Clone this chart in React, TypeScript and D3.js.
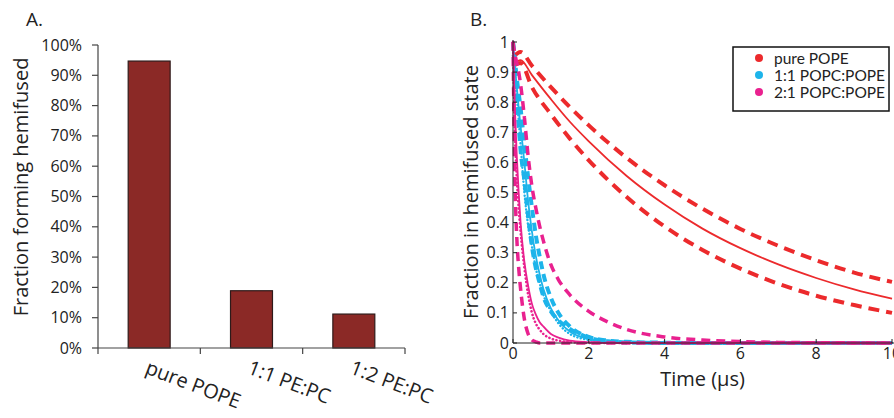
import React from 'react';
import * as d3 from 'd3';

// panel A: bars
const categories = ['pure POPE', '1:1 PE:PC', '1:2 PE:PC'];
const fractions = [0.947, 0.189, 0.112];
const pctTicks = [0, 0.1, 0.2, 0.3, 0.4, 0.5, 0.6, 0.7, 0.8, 0.9, 1];

// panel B: decay curves, time in µs
const redT = [0, 0.2, 0.5, 1, 1.5, 2, 3, 4, 5, 6, 7, 8, 9, 10];
const redFit = [0.925, 0.94, 0.89, 0.81, 0.735, 0.67, 0.555, 0.46, 0.38, 0.315, 0.261, 0.216, 0.178, 0.147];
const redHi = [0.95, 0.967, 0.921, 0.85, 0.784, 0.723, 0.615, 0.524, 0.446, 0.379, 0.323, 0.275, 0.234, 0.203];
const redLo = [0.92, 0.93, 0.85, 0.76, 0.679, 0.607, 0.485, 0.387, 0.309, 0.247, 0.197, 0.157, 0.126, 0.1];

const fastT = [0, 0.05, 0.1, 0.15, 0.2, 0.3, 0.4, 0.5, 0.6, 0.7, 0.8, 1, 1.2, 1.5, 2, 2.5, 3, 4, 5, 6, 7, 10];
const blueFit = [1, 0.92, 0.85, 0.78, 0.72, 0.6, 0.47, 0.37, 0.29, 0.23, 0.18, 0.115, 0.075, 0.038, 0.013, 0.004, 0.001, 0, 0, 0, 0, 0];
const blueDot = [1, 0.9, 0.82, 0.74, 0.66, 0.5, 0.39, 0.32, 0.25, 0.2, 0.16, 0.105, 0.065, 0.03, 0.01, 0.003, 0, 0, 0, 0, 0, 0];
const blueLo = [1, 0.9, 0.8, 0.72, 0.64, 0.54, 0.42, 0.32, 0.25, 0.2, 0.155, 0.105, 0.075, 0.047, 0.018, 0.006, 0.002, 0, 0, 0, 0, 0];
const blueHi = [1, 0.94, 0.88, 0.83, 0.78, 0.66, 0.55, 0.45, 0.36, 0.29, 0.23, 0.15, 0.1, 0.055, 0.02, 0.008, 0.004, 0.001, 0, 0, 0, 0];
const pinkFit = [1, 0.78, 0.62, 0.5, 0.4, 0.27, 0.19, 0.13, 0.095, 0.07, 0.055, 0.03, 0.018, 0.008, 0.003, 0, 0, 0, 0, 0, 0, 0];
const pinkDot = [1, 0.7, 0.55, 0.45, 0.37, 0.25, 0.16, 0.1, 0.065, 0.045, 0.03, 0.015, 0.008, 0.003, 0, 0, 0, 0, 0, 0, 0, 0];
const pinkLo = [1, 0.55, 0.35, 0.25, 0.18, 0.08, 0.03, 0.01, 0.004, 0, 0, 0, 0, 0, 0, 0, 0, 0, 0, 0, 0, 0];
const pinkHi = [1, 0.96, 0.93, 0.9, 0.86, 0.75, 0.62, 0.52, 0.45, 0.39, 0.34, 0.26, 0.21, 0.16, 0.105, 0.07, 0.045, 0.02, 0.01, 0.005, 0.002, 0];

const timeTicks = [0, 2, 4, 6, 8, 10];
const fracTicks = [0, 0.1, 0.2, 0.3, 0.4, 0.5, 0.6, 0.7, 0.8, 0.9, 1];

const legendNames = ['pure POPE', '1:1 POPC:POPE', '2:1 POPC:POPE'];

const RED = '#ec2a2c';
const BLUE = '#1db4ea';
const PINK = '#e9218f';
const BAR = '#8b2926';
const FONT = '"Open Sans", sans-serif';

export default function App() {
  // ---- panel A scales
  const xA = d3.scaleBand<string>().domain(categories).range([98, 405]).paddingInner(0.59).paddingOuter(0.295);
  const yA = d3.scaleLinear().domain([0, 1]).range([348, 45]);
  const step = xA.step();
  const pct = d3.format('.0%');

  // ---- panel B scales
  const xB = d3.scaleLinear().domain([0, 10]).range([513, 892]);
  const yB = d3.scaleLinear().domain([0, 1]).range([343, 42]);
  const line = (t: number[]) =>
    d3.line<number>().x((_, i) => xB(t[i])).y((d) => yB(d)).curve(d3.curveMonotoneX);

  const curves = [
    { t: redT, v: redLo, c: RED, w: 4, dash: '11 7' },
    { t: redT, v: redHi, c: RED, w: 4, dash: '11 7' },
    { t: redT, v: redFit, c: RED, w: 1.8, dash: null },
    { t: fastT, v: blueLo, c: BLUE, w: 4, dash: '8 5' },
    { t: fastT, v: blueHi, c: BLUE, w: 4, dash: '8 5' },
    { t: fastT, v: blueFit, c: BLUE, w: 1.8, dash: null },
    { t: fastT, v: blueDot, c: BLUE, w: 2.4, dash: '0.1 3.4', dot: true },
    { t: fastT, v: pinkLo, c: PINK, w: 3.5, dash: '9 6' },
    { t: fastT, v: pinkHi, c: PINK, w: 3.5, dash: '9 6' },
    { t: fastT, v: pinkFit, c: PINK, w: 1.8, dash: null },
    { t: fastT, v: pinkDot, c: PINK, w: 2.6, dash: '0.1 3.6', dot: true },
  ];

  return (
    <svg width={894} height={418} style={{ position: 'absolute', left: 0, top: 0, fontFamily: FONT }}>
      <rect width={894} height={418} fill="#fff" />

      {/* ===== Panel A ===== */}
      <text x={26} y={26} fontSize={19} fill="#222">A.</text>
      <text transform="translate(28,187) rotate(-90)" textAnchor="middle" fontSize={20} fill="#222">
        Fraction forming hemifused
      </text>
      {categories.map((c, i) => (
        <rect key={c} x={xA(c)} y={yA(fractions[i])} width={xA.bandwidth()} height={yA(0) - yA(fractions[i])}
          fill={BAR} stroke="#2e1a1a" strokeWidth={1.2} />
      ))}
      <line x1={98} x2={98} y1={yA(1)} y2={yA(0)} stroke="#444" strokeWidth={1.2} />
      <line x1={98} x2={405} y1={yA(0)} y2={yA(0)} stroke="#444" strokeWidth={1.2} />
      {pctTicks.map((t) => (
        <g key={t}>
          <line x1={92} x2={98} y1={yA(t)} y2={yA(t)} stroke="#444" strokeWidth={1.2} />
          <text x={82} y={yA(t) + 5.5} textAnchor="end" fontSize={16} fill="#222">{pct(t)}</text>
        </g>
      ))}
      {d3.range(categories.length + 1).map((i) => (
        <line key={i} x1={98 + i * step} x2={98 + i * step} y1={yA(0)} y2={yA(0) + 6} stroke="#444" strokeWidth={1.2} />
      ))}
      {categories.map((c) => (
        <text key={c} transform={`translate(${xA(c)! + xA.bandwidth() / 2 - 5},${373}) rotate(21)`}
          fontSize={20} fill="#222">{c}</text>
      ))}

      {/* ===== Panel B ===== */}
      <text x={470} y={26} fontSize={19} fill="#222">B.</text>
      <text transform="translate(478,192) rotate(-90)" textAnchor="middle" fontSize={20} fill="#222">
        Fraction in hemifused state
      </text>

      <g>
        {curves.map((k, i) => (
          <path key={i} d={line(k.t)(k.v) || ''} fill="none" stroke={k.c} strokeWidth={k.w}
            strokeDasharray={k.dash || undefined} strokeLinecap={k.dot ? 'round' : 'butt'} />
        ))}
      </g>

      <line x1={xB(0)} x2={xB(0)} y1={yB(1) - 2} y2={yB(0)} stroke="#222" strokeWidth={1} />
      <line x1={xB(0)} x2={894} y1={yB(0)} y2={yB(0)} stroke="#222" strokeWidth={1} />
      {timeTicks.map((t) => (
        <g key={t}>
          <line x1={xB(t)} x2={xB(t)} y1={yB(0)} y2={yB(0) - 4} stroke="#222" />
          <text x={xB(t)} y={359} textAnchor="middle" fontSize={16} fill="#222">{t}</text>
        </g>
      ))}
      {fracTicks.map((t) => (
        <g key={t}>
          <line x1={xB(0)} x2={xB(0) + 4} y1={yB(t)} y2={yB(t)} stroke="#222" />
          <text x={509} y={yB(t) + 5.5} textAnchor="end" fontSize={16} fill="#222">{d3.format('~g')(t)}</text>
        </g>
      ))}
      <text x={xB(5)} y={386} textAnchor="middle" fontSize={20} fill="#222">Time (µs)</text>

      {/* legend */}
      <rect x={733} y={47} width={156} height={64} fill="#fff" stroke="#111" strokeWidth={1.5} />
      {legendNames.map((n, i) => (
        <g key={n}>
          <circle cx={759} cy={58 + i * 17} r={4} fill={[RED, BLUE, PINK][i]} />
          <text x={774} y={63.5 + i * 17} fontSize={15.5} fontFamily="Lato, sans-serif" fill="#222">{n}</text>
        </g>
      ))}
    </svg>
  );
}
